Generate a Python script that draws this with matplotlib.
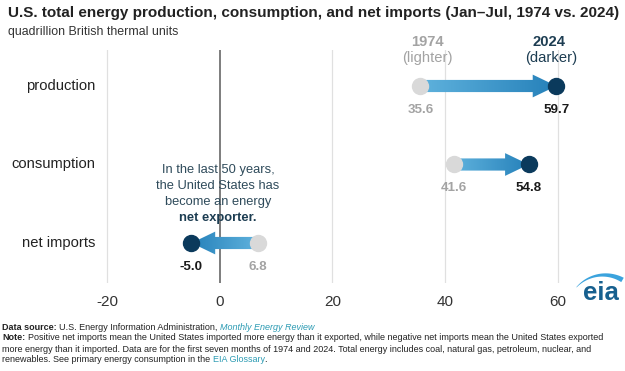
import matplotlib
matplotlib.use('Agg')
import matplotlib.pyplot as plt
import numpy as np
from matplotlib.patches import FancyArrow, Polygon
from matplotlib.colors import LinearSegmentedColormap

categories = ['production', 'consumption', 'net imports']
val_1974 = [35.6, 41.6, 6.8]
val_2024 = [59.7, 54.8, -5.0]
xticks = [-20, 0, 20, 40, 60]

W, H = 625, 371
FONT = 'Liberation Sans'
DARK = '#0b3a5c'
GREY_DOT = '#d9d9d9'
GREY_TXT = '#a3a3a3'
TEAL = '#2c9bb3'

fig = plt.figure(figsize=(W / 100, H / 100), dpi=100)

# main plot area: x spans the full width, y from pixel 50..283
x_per_px = 20 / 112.8
x0_px = 219.7
ax = fig.add_axes([0, 1 - 283 / H, 1, 233 / H])
ax.set_xlim((0 - x0_px) * x_per_px, (W - x0_px) * x_per_px)
row_px = 78.5
ax.set_ylim((283 - 86) / row_px, (50 - 86) / row_px)
for s in ax.spines.values():
    s.set_visible(False)
ax.set_yticks([])
ax.set_xticks(xticks)
ax.set_xticklabels([str(t) for t in xticks], fontsize=11, color='#333333', family=FONT)
ax.tick_params(axis='x', length=0, pad=9)

for t in xticks:
    if t == 0:
        ax.axvline(t, color='#5a5a5a', lw=1.1, zorder=1)
    else:
        ax.axvline(t, color='#e0e0e0', lw=0.9, zorder=1)

cmap = LinearSegmentedColormap.from_list('arr', ['#5fb2dd', '#2681ba'])
for i, (a, b) in enumerate(zip(val_1974, val_2024)):
    arr = FancyArrow(a, i, b - a, 0, width=0.155, head_width=0.29, head_length=4.2,
                     length_includes_head=True, color='none', lw=0, zorder=2)
    ax.add_patch(arr)
    grad = np.linspace(0, 1, 200).reshape(1, -1)
    if b < a:
        grad = grad[:, ::-1]
    img = ax.imshow(grad, cmap=cmap, aspect='auto', zorder=2,
                    extent=[min(a, b), max(a, b), i + 0.2, i - 0.2])
    img.set_clip_path(arr)
    ax.plot(a, i, 'o', ms=11.5, color=GREY_DOT, zorder=3)
    ax.plot(b, i, 'o', ms=11.5, color=DARK, zorder=3)
    ax.annotate(f'{a:.1f}', (a, i), xytext=(0, -17), textcoords='offset points',
                ha='center', va='center', fontsize=9.6, fontweight='bold',
                color=GREY_TXT, family=FONT)
    ax.annotate(f'{b:.1f}', (b, i), xytext=(0, -17), textcoords='offset points',
                ha='center', va='center', fontsize=9.6, fontweight='bold',
                color='#1a1a1a', family=FONT)
    ax.text((95 - x0_px) * x_per_px, i, categories[i], ha='right', va='center',
            fontsize=10.6, color='#222222', family=FONT)

# overlay in pixel coordinates for the free text
ov = fig.add_axes([0, 0, 1, 1], zorder=5)
ov.set_xlim(0, W)
ov.set_ylim(H, 0)
ov.axis('off')
ov.patch.set_alpha(0)

ov.text(8, 13, 'U.S. total energy production, consumption, and net imports (Jan\u2013Jul, 1974 vs. 2024)',
        fontsize=11, fontweight='bold', color='#222222', family=FONT, va='center')
ov.text(8, 32, 'quadrillion British thermal units', fontsize=8.9, color='#333333',
        family=FONT, va='center')

ov.text(427, 42, '1974', fontsize=10.6, fontweight='bold', color=GREY_TXT, family=FONT,
        ha='center', va='center')
ov.text(427, 58, '(lighter)', fontsize=10.6, color=GREY_TXT, family=FONT, ha='center', va='center')
ov.text(549, 42, '2024', fontsize=10.6, fontweight='bold', color='#1d3d52', family=FONT,
        ha='center', va='center')
ov.text(551, 58, '(darker)', fontsize=10.6, color='#1d3d52', family=FONT, ha='center', va='center')

for yy, s in [(170, 'In the last 50 years,'), (186, 'the United States has'),
              (202, 'become an energy')]:
    ov.text(218, yy, s, fontsize=9.3, color='#2f4b5b', family=FONT, ha='center', va='center')
ov.text(218, 218, 'net exporter.', fontsize=9.3, fontweight='bold', color='#1d3d52',
        family=FONT, ha='center', va='center')

# eia logo
ov.text(601, 300, 'eia', fontsize=18.5, fontweight='bold', color='#17608f', family=FONT,
        ha='center', va='baseline')
tt = np.linspace(0, 1, 60)
ang = np.deg2rad(138 - 78 * tt)
rad = 37
th = 0.4 + 4.6 * tt
cx, cy = 604, 312
outer = np.c_[cx + (rad + th / 2) * np.cos(ang), cy - (rad + th / 2) * np.sin(ang)]
inner = np.c_[cx + (rad - th / 2) * np.cos(ang), cy - (rad - th / 2) * np.sin(ang)]
ov.add_patch(Polygon(np.r_[outer, inner[::-1]], closed=True, color='#3ba3dd', lw=0))

# footer with mixed styles
fig.canvas.draw()
renderer = fig.canvas.get_renderer()
FS = 6.5


def line(y, pieces):
    x = 2
    probe = ov.text(0, 0, 'a a', fontsize=FS, family=FONT)
    probe2 = ov.text(0, 0, 'aa', fontsize=FS, family=FONT)
    sp = probe.get_window_extent(renderer).width - probe2.get_window_extent(renderer).width
    probe.remove()
    probe2.remove()
    for txt, weight, style, color in pieces:
        t = txt.strip()
        if txt.startswith(' '):
            x += sp
        piece = ov.text(x, y, t, fontsize=FS, fontweight=weight, style=style, color=color,
                        family=FONT, va='center')
        x = piece.get_window_extent(renderer).x1
        if txt.endswith(' '):
            x += sp


BLK = '#222222'
line(327, [('Data source:', 'bold', 'normal', BLK),
           (' U.S. Energy Information Administration, ', 'normal', 'normal', BLK),
           ('Monthly Energy Review', 'normal', 'italic', TEAL)])
line(338, [('Note:', 'bold', 'normal', BLK),
           (' Positive net imports mean the United States imported more energy than it exported, '
            'while negative net imports mean the United States exported', 'normal', 'normal', BLK)])
line(349, [('more energy than it imported. Data are for the first seven months of 1974 and 2024. '
            'Total energy includes coal, natural gas, petroleum, nuclear, and', 'normal', 'normal', BLK)])
line(360, [('renewables. See primary energy consumption in the ', 'normal', 'normal', BLK),
           ('EIA Glossary', 'normal', 'normal', TEAL),
           ('.', 'normal', 'normal', BLK)])

fig.savefig('out.png', dpi=100)
